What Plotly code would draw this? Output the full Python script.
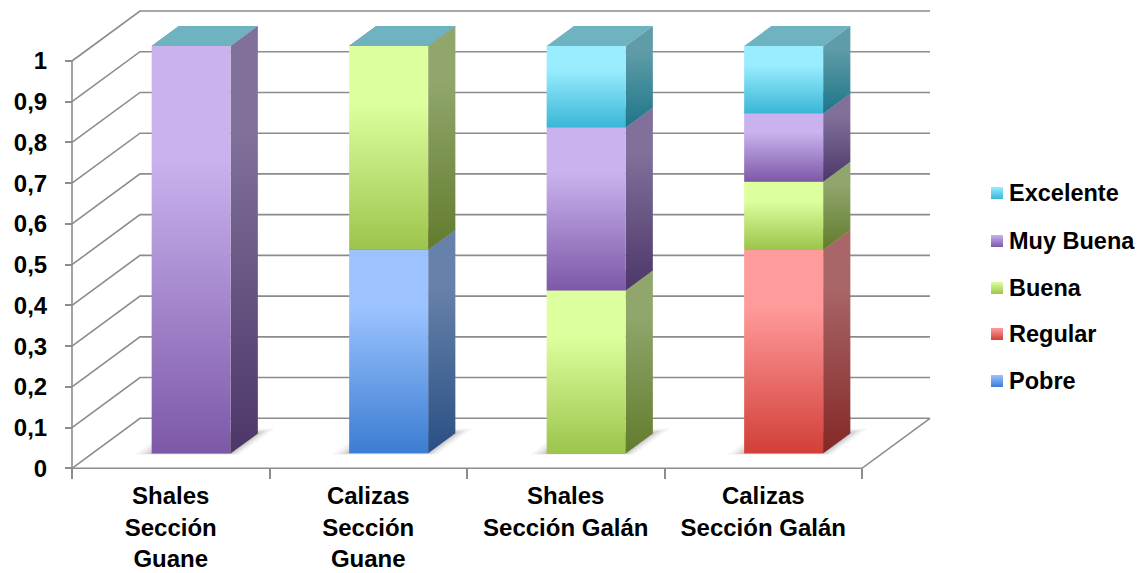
import plotly.graph_objects as go

# ---------------- data ----------------
categories = ["Shales<br>Sección<br>Guane", "Calizas<br>Sección<br>Guane",
              "Shales<br>Sección Galán", "Calizas<br>Sección Galán"]
series_names = ["Pobre", "Regular", "Buena", "Muy Buena", "Excelente"]
pobre = [0, 0.5, 0, 0]
regular = [0, 0, 0, 0.5]
buena = [0, 0.5, 0.4, 0.167]
muy_buena = [1.0, 0, 0.4, 0.167]
excelente = [0, 0, 0.2, 0.166]
tick_values = [0, 0.1, 0.2, 0.3, 0.4, 0.5, 0.6, 0.7, 0.8, 0.9, 1]
tick_labels = ["0", "0,1", "0,2", "0,3", "0,4", "0,5", "0,6", "0,7", "0,8", "0,9", "1"]

series_values = [pobre, regular, buena, muy_buena, excelente]

# ---------------- styles ----------------
front_cols = {  # (light top, dark bottom)
    "Pobre": ("#9cc3ff", "#3b7dd2"),
    "Regular": ("#ff9b9b", "#d23f38"),
    "Buena": ("#ddff9e", "#9dc44c"),
    "Muy Buena": ("#c9b2ee", "#7d58a8"),
    "Excelente": ("#9aedff", "#39b6d6"),
}
side_cols = {
    "Pobre": ("#6782aa", "#2a4f84"),
    "Regular": ("#a96668", "#842826"),
    "Buena": ("#90a66c", "#627c2c"),
    "Muy Buena": ("#80709a", "#4c3768"),
    "Excelente": ("#5f9ca8", "#1f7589"),
}
top_cols = {
    "Pobre": "#5d7db0",
    "Regular": "#c06060",
    "Buena": "#8fb050",
    "Muy Buena": "#8a70b0",
    "Excelente": "#6fb3c0",
}
GRID = "#8c8c8c"
FAMILY = "Liberation Sans, Arial, sans-serif"
FONT_TICK = dict(family=FAMILY, size=24, color="black", weight="bold")
FONT_CAT = dict(family=FAMILY, size=24, color="black", weight="bold")
FONT_LEG = dict(family=FAMILY, size=23.5, color="black", weight="bold")

# ---------------- geometry (pseudo 3D projection) ----------------
W, H = 1147, 573
X0, CW = 72.0, 197.5      # pixel of category 0 edge, px per category
Y0, VH = 468.3, 407.3     # pixel of value 0, px per value unit
DX, DY = 68.0 / CW, 50.0 / VH   # depth offset (full depth) in data units
BAR_W = 0.4
D_FRONT, D_BACK = 0.3, 0.7
N = len(categories)


def P(x, v, d):
    return x + d * DX, v + d * DY


def px2x(px):
    return (px - X0) / CW


def px2y(py):
    return (Y0 - py) / VH


traces = []


def poly(pts, colorscale=None, fill=None, opacity=1.0):
    xs = [p[0] for p in pts] + [pts[0][0]]
    ys = [p[1] for p in pts] + [pts[0][1]]
    t = dict(x=xs, y=ys, mode="lines", fill="toself", line=dict(width=0),
             hoverinfo="skip", showlegend=False, opacity=opacity)
    if colorscale is not None:
        t["fillgradient"] = dict(type="vertical", colorscale=colorscale)
    else:
        t["fillcolor"] = fill
    traces.append(go.Scatter(**t))


# walls / gridlines
gx, gy = [], []
for v in tick_values:
    for (a, b) in [P(0, v, 0), P(0, v, 1), P(N, v, 1)]:
        gx.append(a); gy.append(b)
    gx.append(None); gy.append(None)
# floor front + right edge
for (a, b) in [P(0, 0, 0), P(N, 0, 0), P(N, 0, 1)]:
    gx.append(a); gy.append(b)
gx.append(None); gy.append(None)
# front value axis line
for (a, b) in [P(0, 0, 0), P(0, 1, 0)]:
    gx.append(a); gy.append(b)
traces.append(go.Scatter(x=gx, y=gy, mode="lines", line=dict(color=GRID, width=1.6),
                         hoverinfo="skip", showlegend=False))

# bars
for i in range(N):
    xl = i + 0.5 - BAR_W / 2
    xr = i + 0.5 + BAR_W / 2
    # soft floor shadow
    for e, op in [(0.075, 0.05), (0.05, 0.07), (0.03, 0.09), (0.012, 0.1)]:
        de = e * 1.3
        poly([P(xl - e, 0, D_FRONT - de * 0.3), P(xr + e * 0.7, 0, D_FRONT - de * 0.3),
              P(xr + e * 0.7, 0, D_BACK + de), P(xl - e, 0, D_BACK + de)],
             fill="rgba(60,60,60,1)", opacity=op)
    base = 0.0
    for name, vals in zip(series_names, series_values):
        v = vals[i]
        top = base + v
        fl, fd = front_cols[name]
        sl, sd = side_cols[name]
        # top face
        poly([P(xl, top, D_FRONT), P(xr, top, D_FRONT), P(xr, top, D_BACK), P(xl, top, D_BACK)],
             fill=top_cols[name])
        if v > 0:
            # side face
            poly([P(xr, base, D_FRONT), P(xr, base, D_BACK), P(xr, top, D_BACK), P(xr, top, D_FRONT)],
                 colorscale=[[0, sd], [0.75, sl], [1, sl]])
            # front face
            poly([P(xl, base, D_FRONT), P(xr, base, D_FRONT), P(xr, top, D_FRONT), P(xl, top, D_FRONT)],
                 colorscale=[[0, fd], [0.72, fl], [1, fl]])
        base = top

# legend (manual, reversed order like the reference)
annotations = []
leg_y_px = [193, 241, 288, 334, 381]
for name, ypx in zip(reversed(series_names), leg_y_px):
    fl, fd = front_cols[name]
    poly([(px2x(991), px2y(ypx + 6)), (px2x(1003), px2y(ypx + 6)),
          (px2x(1003), px2y(ypx - 6)), (px2x(991), px2y(ypx - 6))],
         colorscale=[[0, fd], [1, fl]])
    annotations.append(dict(x=px2x(1007), y=px2y(ypx), xref="x", yref="y", text=name,
                            showarrow=False, xanchor="left", yanchor="middle", font=FONT_LEG))

fig = go.Figure(traces)
fig.update_layout(
    width=W, height=H, margin=dict(l=0, r=0, t=0, b=0),
    paper_bgcolor="white", plot_bgcolor="white",
    showlegend=False, annotations=annotations,
    xaxis=dict(range=[-X0 / CW, (W - X0) / CW], anchor="free", position=(H - Y0) / H,
               tickvals=[i + 0.5 for i in range(N)], ticktext=categories, ticks="",
               tickfont=FONT_CAT, showgrid=False, zeroline=False, showline=False,
               automargin=False, ticklabelstandoff=11,
               minor=dict(tickvals=list(range(N + 1)), ticks="outside", ticklen=10,
                          tickwidth=1.6, tickcolor=GRID, showgrid=False)),
    yaxis=dict(range=[-(H - Y0) / VH, Y0 / VH], anchor="free", position=X0 / W,
               tickvals=tick_values, ticktext=tick_labels, ticks="outside", ticklen=7,
               tickwidth=1.6, tickcolor=GRID, tickfont=FONT_TICK, showgrid=False,
               zeroline=False, showline=False, automargin=False, ticklabelstandoff=13),
)
fig.write_html("out.html")
